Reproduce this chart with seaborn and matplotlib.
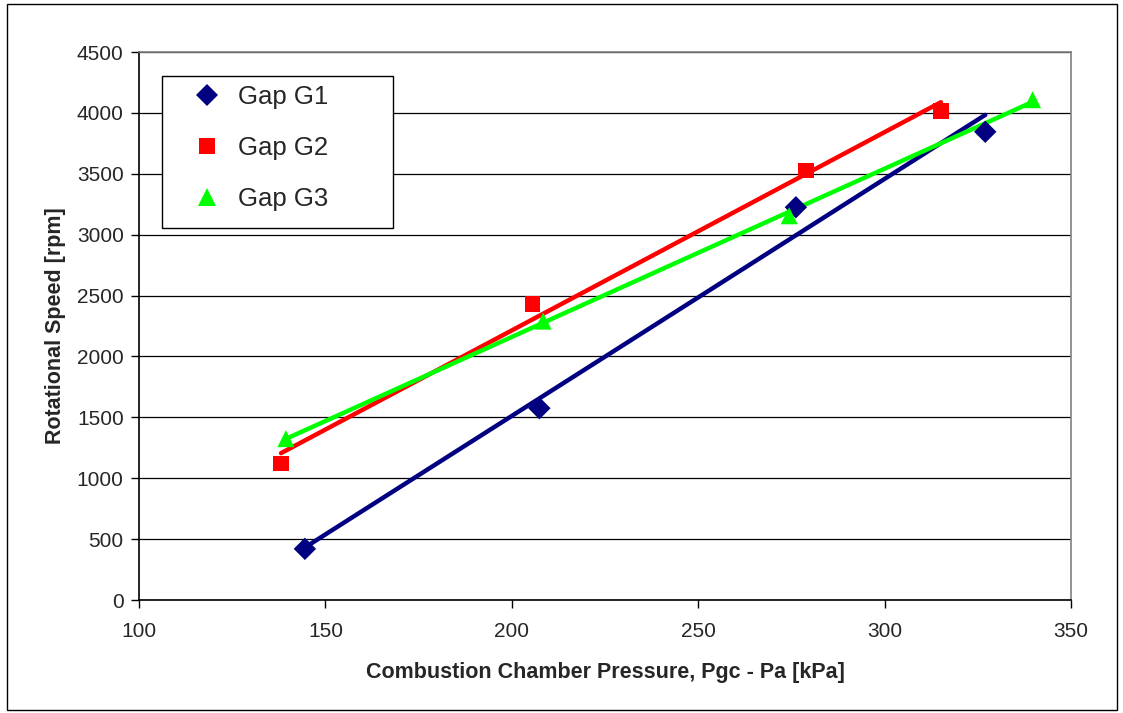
import numpy as np
import pandas as pd
import matplotlib
matplotlib.use("Agg")
import matplotlib.pyplot as plt
import seaborn as sns
from matplotlib.lines import Line2D
from matplotlib.patches import Rectangle

# Measured operating points for the three gap settings
g1_pressure = [144.5, 207.4, 276.2, 327.0]
g1_speed = [420, 1575, 3225, 3845]
g2_pressure = [138.1, 205.6, 278.9, 315.1]
g2_speed = [1122, 2430, 3530, 4015]
g3_pressure = [139.4, 208.4, 274.4, 339.7]
g3_speed = [1325, 2290, 3155, 4108]

series_names = ["Gap G1", "Gap G2", "Gap G3"]
series_colors = ["#000080", "#FF0000", "#00FF00"]
series_markers = ["D", "s", "^"]
x_ticks = [100, 150, 200, 250, 300, 350]
y_ticks = list(range(0, 4501, 500))

frames = []
for name, xs, ys in zip(series_names,
                        [g1_pressure, g2_pressure, g3_pressure],
                        [g1_speed, g2_speed, g3_speed]):
    frames.append(pd.DataFrame({"pressure": xs, "speed": ys, "gap": name}))
df = pd.concat(frames, ignore_index=True)

sns.set_style("white")
plt.rcParams["font.family"] = ["Liberation Sans", "DejaVu Sans"]

W, H = 1123, 713
fig = plt.figure(figsize=(W / 100, H / 100), dpi=100)
ax = fig.add_axes([139 / W, 1 - 600 / H, (1071 - 139) / W, (600 - 52) / H])

# Outer chart border
fig.add_artist(Rectangle((7 / W, 1 - 710 / H), 1110 / W, 706 / H,
                         transform=fig.transFigure, fill=False,
                         edgecolor="black", linewidth=1.0))

ax.set_axisbelow(True)
ax.yaxis.grid(True, color="#000000", linewidth=0.9)
ax.xaxis.grid(False)

sizes = {"Gap G1": 130, "Gap G2": 120, "Gap G3": 150}
for name, color, marker in zip(series_names, series_colors, series_markers):
    sub = df[df["gap"] == name]
    sns.regplot(data=sub, x="pressure", y="speed", ax=ax, ci=None,
                scatter=False, truncate=True,
                line_kws={"color": color, "linewidth": 3.2, "zorder": 3})
    sns.scatterplot(data=sub, x="pressure", y="speed", ax=ax,
                    color=color, marker=marker, s=sizes[name],
                    edgecolor="none", linewidth=0, zorder=4, legend=False)

ax.set_xlim(100, 350)
ax.set_ylim(0, 4500)
ax.set_xticks(x_ticks)
ax.set_yticks(y_ticks)
ax.tick_params(axis="both", which="both", labelsize=15, length=6,
               direction="out", color="black", width=1,
               left=True, bottom=True)
ax.tick_params(axis="x", pad=10)
ax.tick_params(axis="y", pad=5)

for side in ["left", "bottom"]:
    ax.spines[side].set_color("black")
    ax.spines[side].set_linewidth(1.2)
for side in ["top", "right"]:
    ax.spines[side].set_color("#808080")
    ax.spines[side].set_linewidth(1.2)

ax.set_xlabel("Combustion Chamber Pressure, Pgc - Pa [kPa]",
              fontsize=15.5, fontweight="bold", labelpad=15)
ax.set_ylabel("Rotational Speed [rpm]", fontsize=15.5,
              fontweight="bold", labelpad=8)

# Legend box drawn as its own white panel, entries placed inside it
legend_box = Rectangle((162 / W, 1 - 228 / H), (393 - 162) / W, (228 - 76) / H,
                       transform=fig.transFigure, facecolor="white",
                       edgecolor="black", linewidth=1.0, zorder=5)
fig.add_artist(legend_box)

handles = [Line2D([], [], linestyle="none", marker=m, color=c,
                  markersize=ms, markeredgewidth=0)
           for m, c, ms in zip(series_markers, series_colors, [11, 12, 13])]
leg = fig.legend(handles, series_names, loc="upper left",
                 bbox_to_anchor=(181 / W, 1 - 85 / H),
                 bbox_transform=fig.transFigure,
                 fontsize=18.5, frameon=False, borderpad=0,
                 labelspacing=1.05, handletextpad=0.2, handlelength=2.0,
                 borderaxespad=0)
leg.set_zorder(6)

fig.savefig("out.png", dpi=100, facecolor="white")
